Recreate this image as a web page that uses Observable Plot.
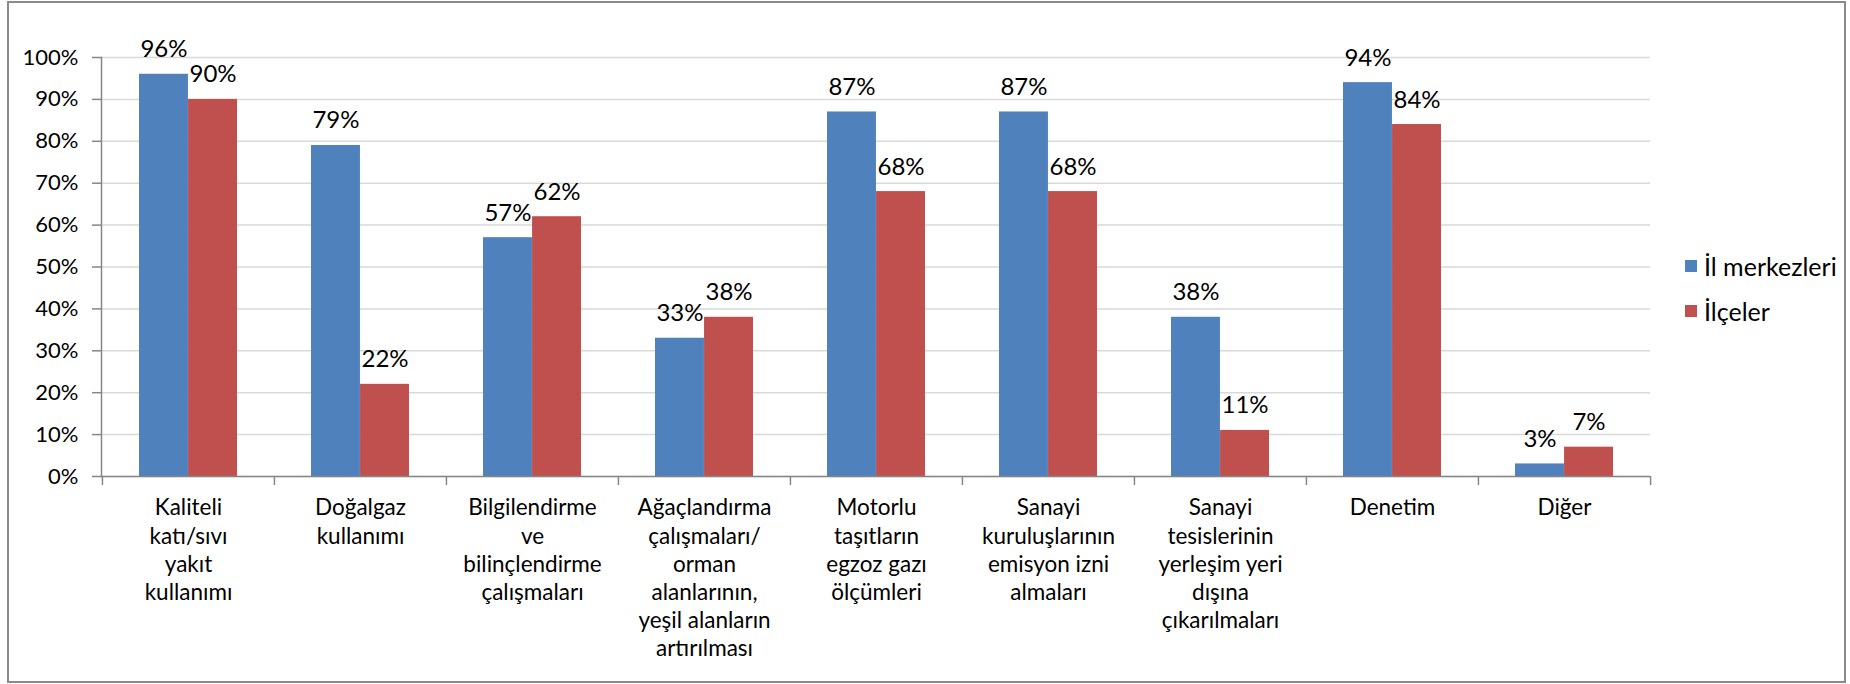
<!DOCTYPE html>
<html>
<head>
<meta charset="utf-8">
<script src="https://cdn.jsdelivr.net/npm/d3@7"></script>
<script src="https://cdn.jsdelivr.net/npm/@observablehq/plot@0.6"></script>
<style>
  html, body { margin: 0; padding: 0; background: #fff; }
  #wrap { position: relative; width: 1850px; height: 684px; font-family: Lato, "Open Sans", sans-serif; }
  #border { position: absolute; left: 7px; top: 1px; width: 1839px; height: 682px; box-sizing: border-box; border: 2px solid #8a8a8a; pointer-events: none; }
  #legend { position: absolute; left: 1685px; top: 243px; font-size: 25px; color: #000; }
  .item { display: flex; align-items: center; height: 45px; }
  .sw { width: 12px; height: 12px; margin-right: 7px; }
</style>
</head>
<body>
<div id="wrap">
  <div id="chart"></div>
  <div id="legend"></div>
  <div id="border"></div>
</div>
<script>
const categories = [
  "Kaliteli\nkatı/sıvı\nyakıt\nkullanımı",
  "Doğalgaz\nkullanımı",
  "Bilgilendirme\nve\nbilinçlendirme\nçalışmaları",
  "Ağaçlandırma\nçalışmaları/\norman\nalanlarının,\nyeşil alanların\nartırılması",
  "Motorlu\ntaşıtların\negzoz gazı\nölçümleri",
  "Sanayi\nkuruluşlarının\nemisyon izni\nalmaları",
  "Sanayi\ntesislerinin\nyerleşim yeri\ndışına\nçıkarılmaları",
  "Denetim",
  "Diğer"
];
const seriesNames = ["İl merkezleri", "İlçeler"];
const ilMerkezleri = [96, 79, 57, 33, 87, 87, 38, 94, 3];
const ilceler = [90, 22, 62, 38, 68, 68, 11, 84, 7];
const yTicks = [0, 10, 20, 30, 40, 50, 60, 70, 80, 90, 100];
const colors = ["#4f81bd", "#c0504d"];

const dataA = categories.map((c, i) => ({cat: c, value: ilMerkezleri[i]}));
const dataB = categories.map((c, i) => ({cat: c, value: ilceler[i]}));

const W = 1850, H = 684, mL = 101, mR = 200, mT = 57, mB = 208;
const bw = (W - mL - mR) / categories.length;
const gap = bw * 0.215;
const barW = bw * 0.285;
const axisGray = "#868686";

const chart = Plot.plot({
  width: W, height: H,
  marginLeft: mL, marginRight: mR, marginTop: mT, marginBottom: mB,
  style: {fontFamily: "Lato, 'Open Sans', sans-serif", fontSize: "22px", color: "#000", background: "transparent"},
  x: {domain: categories, padding: 0, label: null},
  y: {domain: [0, 100], label: null},
  marks: [
    Plot.gridY(yTicks, {stroke: "#d9d9d9", strokeOpacity: 1, strokeWidth: 1.5}),
    Plot.barY(dataA, {x: "cat", y: "value", fill: colors[0], insetLeft: gap, insetRight: bw - gap - barW}),
    Plot.barY(dataB, {x: "cat", y: "value", fill: colors[1], insetLeft: gap + barW, insetRight: gap}),
    Plot.text(dataA, {x: "cat", y: "value", text: d => d.value + "%", dx: -barW / 2, dy: -17, lineAnchor: "bottom", fill: "#000", fontSize: 24}),
    Plot.text(dataB, {x: "cat", y: "value", text: d => d.value + "%", dx: barW / 2, dy: -17, lineAnchor: "bottom", fill: "#000", fontSize: 24}),
    Plot.frame({anchor: "left", stroke: axisGray, strokeWidth: 1.5}),
    Plot.ruleY([0], {stroke: axisGray, strokeWidth: 1.5}),
    Plot.ruleX(categories, {x: d => d, y1: 0, y2: 0, dx: -bw / 2, insetBottom: -9, stroke: axisGray, strokeWidth: 1.5}),
    Plot.ruleX([categories[categories.length - 1]], {x: d => d, y1: 0, y2: 0, dx: bw / 2, insetBottom: -9, stroke: axisGray, strokeWidth: 1.5}),
    Plot.axisY(yTicks, {tickSize: 9, tickPadding: 14, tickFormat: d => d + "%", stroke: axisGray, strokeWidth: 1.5, fill: "#000", fontSize: 22, label: null}),
    Plot.axisX({tickSize: 0, tickPadding: 19, lineHeight: 1.25, fill: "#000", fontSize: 22.5, textOverflow: null, lineWidth: Infinity, label: null})
  ]
});
document.getElementById("chart").appendChild(chart);

const legend = document.getElementById("legend");
seriesNames.forEach((name, i) => {
  const item = document.createElement("div");
  item.className = "item";
  const sw = document.createElement("div");
  sw.className = "sw";
  sw.style.background = colors[i];
  const t = document.createElement("span");
  t.textContent = name;
  item.appendChild(sw);
  item.appendChild(t);
  legend.appendChild(item);
});
</script>
</body>
</html>
